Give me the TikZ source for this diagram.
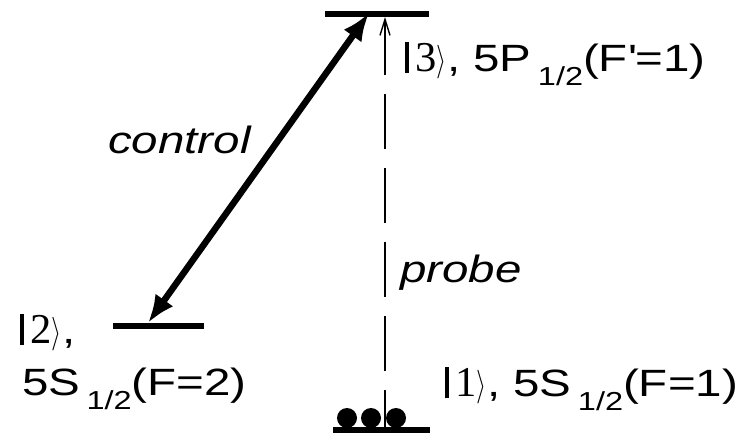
\documentclass[tikz,border=0pt]{standalone}
\usepackage{fontspec}
\setmainfont{Liberation Sans}[FakeStretch=1.25]
\newfontfamily\ketdigit{Liberation Serif}
\usetikzlibrary{arrows.meta}
\newcommand{\myket}[1]{\rule[-0.06em]{0.11em}{0.82em}{\ketdigit\,\scalebox{1.12}{#1}}\raisebox{0.02em}{\scalebox{1.05}[1.35]{$\rangle$}}}
\newcommand{\hsub}{\,\raisebox{-0.38em}{\fontsize{26}{26}\selectfont 1/2}}
\begin{document}
\begin{tikzpicture}[x=1pt,y=-1pt,
  level/.style={line width=6pt},
  lbl/.style={inner sep=0pt,font=\fontsize{38}{38}\selectfont},
  ctrl/.style={line width=6.5pt,{Latex[length=28pt,width=22pt]}-{Latex[length=28pt,width=22pt]}},
  prb/.style={line width=1.4pt,dash pattern=on 55pt off 19pt,dash phase=17pt,-{Straight Barb[length=16pt,width=10pt]}},
  atom/.style={circle,fill=black,inner sep=0pt,minimum size=20pt}]
\path[use as bounding box] (0,0) rectangle (744,437);
% levels
\coordinate (l3a) at (325,14); \coordinate (l3b) at (429,14);
\coordinate (l2a) at (113,326); \coordinate (l2b) at (204,326);
\coordinate (l1a) at (333,430); \coordinate (l1b) at (430,430);
\draw[level] (l3a) -- (l3b);
\draw[level] (l2a) -- (l2b);
\draw[level] (l1a) -- (l1b);
% atoms
\node[atom] (a1) at (347,418) {};
\node[atom] (a2) at (371,418) {};
\node[atom] (a3) at (396,418) {};
% transitions
\coordinate (c2) at (148,323); \coordinate (c3) at (369,13);
\draw[ctrl] (c2) -- (c3);
\coordinate (p1) at (385,428); \coordinate (p3) at (385,17);
\draw[prb] (p1) -- (p3);
% labels
\node[lbl,anchor=base west] (t3) at (405,71) {\myket{3}, 5P\hsub(F\textquotesingle=1)};
\node[lbl,anchor=base west] (t2) at (20,343) {\myket{2},};
\node[lbl,anchor=base west] (t2b) at (22,395) {5S\hsub(F=2)};
\node[lbl,anchor=base west] (t1) at (445,396) {\myket{1}, 5S\hsub(F=1)};
\node[lbl,anchor=base west] (tc) at (108,153) {\itshape control};
\node[lbl,anchor=base west] (tp) at (400,282) {\itshape probe};
\end{tikzpicture}
\end{document}
